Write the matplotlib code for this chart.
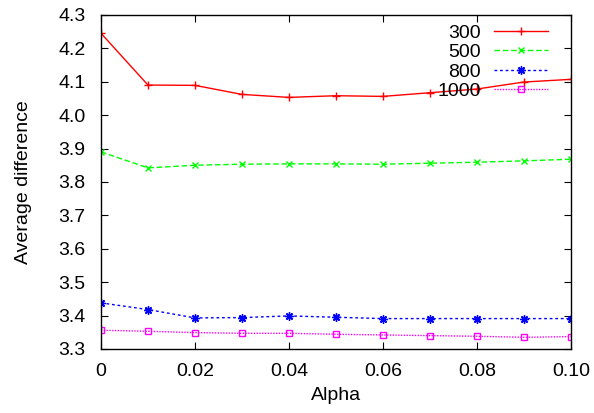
import numpy as np
import matplotlib
matplotlib.use('Agg')
import matplotlib.pyplot as plt

plt.rcParams['font.family'] = ['Liberation Sans', 'DejaVu Sans']

alpha = [0.00, 0.01, 0.02, 0.03, 0.04, 0.05, 0.06, 0.07, 0.08, 0.09, 0.10]
labels = ['300', '500', '800', '1000']
vals_300 = [4.245, 4.090, 4.089, 4.062, 4.053, 4.058, 4.056, 4.067, 4.078, 4.099, 4.107]
vals_500 = [3.890, 3.842, 3.850, 3.853, 3.854, 3.854, 3.853, 3.856, 3.859, 3.863, 3.868]
vals_800 = [3.438, 3.418, 3.393, 3.394, 3.399, 3.395, 3.391, 3.391, 3.391, 3.391, 3.391]
vals_1000 = [3.356, 3.353, 3.349, 3.347, 3.347, 3.344, 3.342, 3.340, 3.338, 3.335, 3.337]

fig = plt.figure(figsize=(5.94, 4.13), dpi=100)
ax = fig.add_axes([0.170, 0.155, 0.791, 0.809])

ax.plot(alpha, vals_300, color='#ff0000', lw=1, ls='-', marker='+', ms=6, mew=1, label=labels[0])
ax.plot(alpha, vals_500, color='#00ff00', lw=1, ls=(0, (4, 2)), marker='x', ms=5, mew=1, label=labels[1])
ax.plot(alpha, vals_800, color='#0000ff', lw=1, ls=(0, (2, 2)), marker=(8, 2, 0), ms=6, mew=1, label=labels[2])
ax.plot(alpha, vals_1000, color='#ff00ff', lw=1, ls=(0, (1, 1)), marker='s', ms=5, mew=1,
        mfc='none', label=labels[3])

ax.set_xlim(0, 0.10)
ax.set_ylim(3.3, 4.3)
ax.set_xticks(alpha[::2])
ax.set_xticklabels(['0', '0.02', '0.04', '0.06', '0.08', '0.10'])
ax.set_yticks(np.round(np.arange(3.3, 4.31, 0.1), 1))
ax.set_yticklabels(['%.1f' % v for v in np.arange(3.3, 4.31, 0.1)])
ax.tick_params(axis='both', direction='in', top=True, right=True, length=5, labelsize=14)
ax.tick_params(axis='x', pad=10)
ax.tick_params(axis='y', pad=11)
for s in ax.spines.values():
    s.set_linewidth(1)

ax.set_xlabel('Alpha', fontsize=14, labelpad=5)
ax.set_ylabel('Average difference', fontsize=14, labelpad=19)

ax.legend(loc='upper right', frameon=False, markerfirst=False, fontsize=14,
          handlelength=2.8, labelspacing=0.1, handletextpad=0.67,
          borderpad=0, borderaxespad=0,
          bbox_to_anchor=(548 / 594, (413 - 24) / 413), bbox_transform=fig.transFigure)

fig.savefig('out.png', dpi=100)
